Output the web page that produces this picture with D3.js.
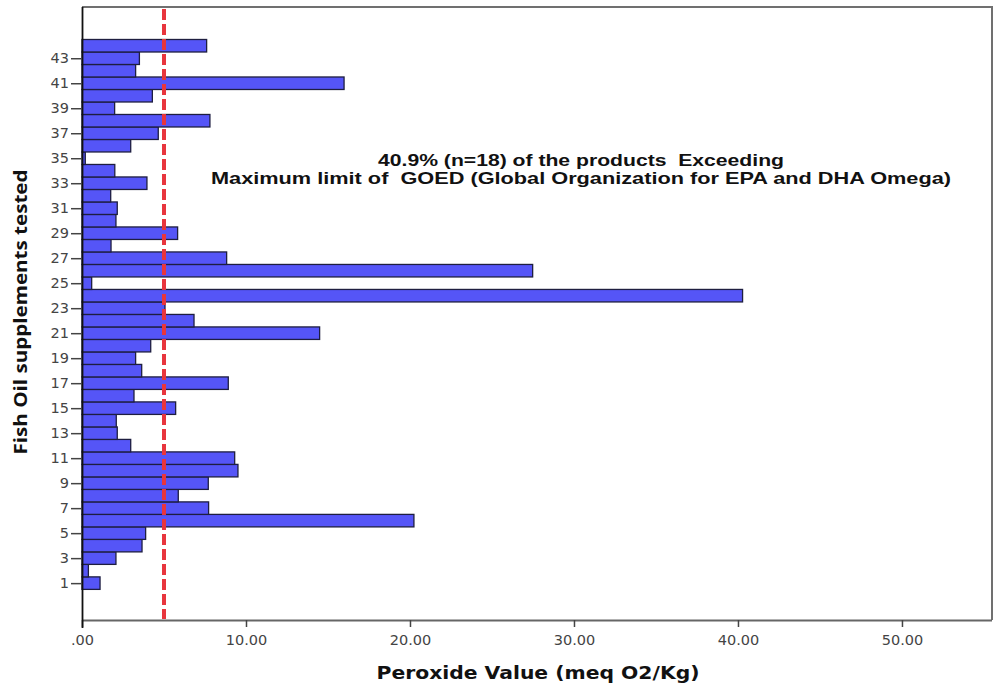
<!DOCTYPE html>
<html><head><meta charset="utf-8">
<script src="https://cdn.jsdelivr.net/npm/d3@7"></script>
<style>html,body{margin:0;padding:0;background:#fff;}</style>
</head><body>
<svg id="chart" width="998" height="688"></svg>
<script>
// Data
const products = d3.range(1, 45); // 1..44
const peroxide = [1.10, 0.39, 2.07, 3.66, 3.88, 20.24, 7.72, 5.87, 7.70, 9.51,
                  9.31, 2.97, 2.15, 2.09, 5.71, 3.17, 8.92, 3.64, 3.27, 4.19,
                  14.49, 6.83, 5.06, 40.28, 0.59, 27.48, 8.82, 1.77, 5.83, 2.07,
                  2.15, 1.75, 3.96, 2.00, 0.20, 2.97, 4.65, 7.80, 1.99, 4.29,
                  15.98, 3.27, 3.50, 7.60];
const xTicks = [0, 10, 20, 30, 40, 50];
const yTicks = [1,3,5,7,9,11,13,15,17,19,21,23,25,27,29,31,33,35,37,39,41,43];
const goedLimit = 5;
const annotation = ["40.9% (n=18) of the products  Exceeding",
                    "Maximum limit of  GOED (Global Organization for EPA and DHA Omega)"];

const svg = d3.select("#chart");
const L = 82, R = 992, T = 7, B = 620;

const x = d3.scaleLinear().domain([0, 55.49]).range([L, R]);
const y = d3.scaleLinear().domain([-1.95, 47.1]).range([B, T]);
const bandH = Math.abs(y(1) - y(2));

// frame (top/right)
svg.append("path").attr("d", `M${L},${T}H${R}V${B}`)
  .attr("fill", "none").attr("stroke", "#707070").attr("stroke-width", 2);

// bars
svg.append("g").selectAll("rect").data(products).join("rect")
  .attr("x", x(0))
  .attr("y", d => y(d) - bandH / 2)
  .attr("width", (d, i) => x(peroxide[i]) - x(0))
  .attr("height", bandH)
  .attr("fill", "#5555f7")
  .attr("stroke", "#1e1e40")
  .attr("stroke-width", 1.3);

// limit line
svg.append("line")
  .attr("x1", x(goedLimit)).attr("x2", x(goedLimit))
  .attr("y1", T + 2).attr("y2", B - 1)
  .attr("stroke", "#e8353d").attr("stroke-width", 4)
  .attr("stroke-dasharray", "11,4");

// x axis
const xAxis = svg.append("g").attr("transform", `translate(0,${B})`)
  .call(d3.axisBottom(x).tickValues(xTicks).tickSize(7).tickSizeOuter(0)
    .tickFormat(d => d === 0 ? ".00" : d3.format(".2f")(d)));
xAxis.select(".domain").attr("stroke", "#666").attr("stroke-width", 2).attr("d", `M${L},0.5H${R}`);
xAxis.selectAll(".tick line").attr("stroke", "#444").attr("stroke-width", 1.5);
xAxis.selectAll(".tick text").attr("font-family", "DejaVu Sans").attr("font-size", 14.5)
  .attr("fill", "#444").attr("dy", "1.0em");

// y axis
const yAxis = svg.append("g").attr("transform", `translate(${L},0)`)
  .call(d3.axisLeft(y).tickValues(yTicks).tickSize(11).tickSizeOuter(0).tickFormat(d3.format("d")));
yAxis.select(".domain").attr("stroke", "#111").attr("stroke-width", 1.8).attr("d", `M0.5,${T}V${B + 8}`);
yAxis.selectAll(".tick line").attr("stroke", "#444").attr("stroke-width", 1.5);
yAxis.selectAll(".tick text").attr("font-family", "DejaVu Sans").attr("font-size", 14.5)
  .attr("fill", "#444").attr("x", -13);

// axis titles
svg.append("text").attr("x", 538).attr("y", 679).attr("text-anchor", "middle")
  .attr("font-family", "DejaVu Sans").attr("font-weight", "bold").attr("font-size", 17)
  .attr("fill", "#111").attr("textLength", 323).attr("lengthAdjust", "spacingAndGlyphs")
  .text("Peroxide Value (meq O2/Kg)");

svg.append("text").attr("transform", "translate(27,312) rotate(-90)").attr("text-anchor", "middle")
  .attr("font-family", "Open Sans").attr("font-weight", "bold").attr("font-size", 18)
  .attr("fill", "#111").attr("textLength", 285).attr("lengthAdjust", "spacingAndGlyphs")
  .text("Fish Oil supplements tested");

// annotation
const annLen = [406, 740];
svg.append("g").selectAll("text").data(annotation).join("text")
  .attr("x", 581).attr("y", (d, i) => 166 + i * 18)
  .attr("text-anchor", "middle")
  .attr("font-family", "Liberation Sans").attr("font-weight", "bold").attr("font-size", 17)
  .attr("fill", "#111")
  .attr("textLength", (d, i) => annLen[i]).attr("lengthAdjust", "spacingAndGlyphs")
  .style("white-space", "pre")
  .text(d => d);
</script>
</body></html>
